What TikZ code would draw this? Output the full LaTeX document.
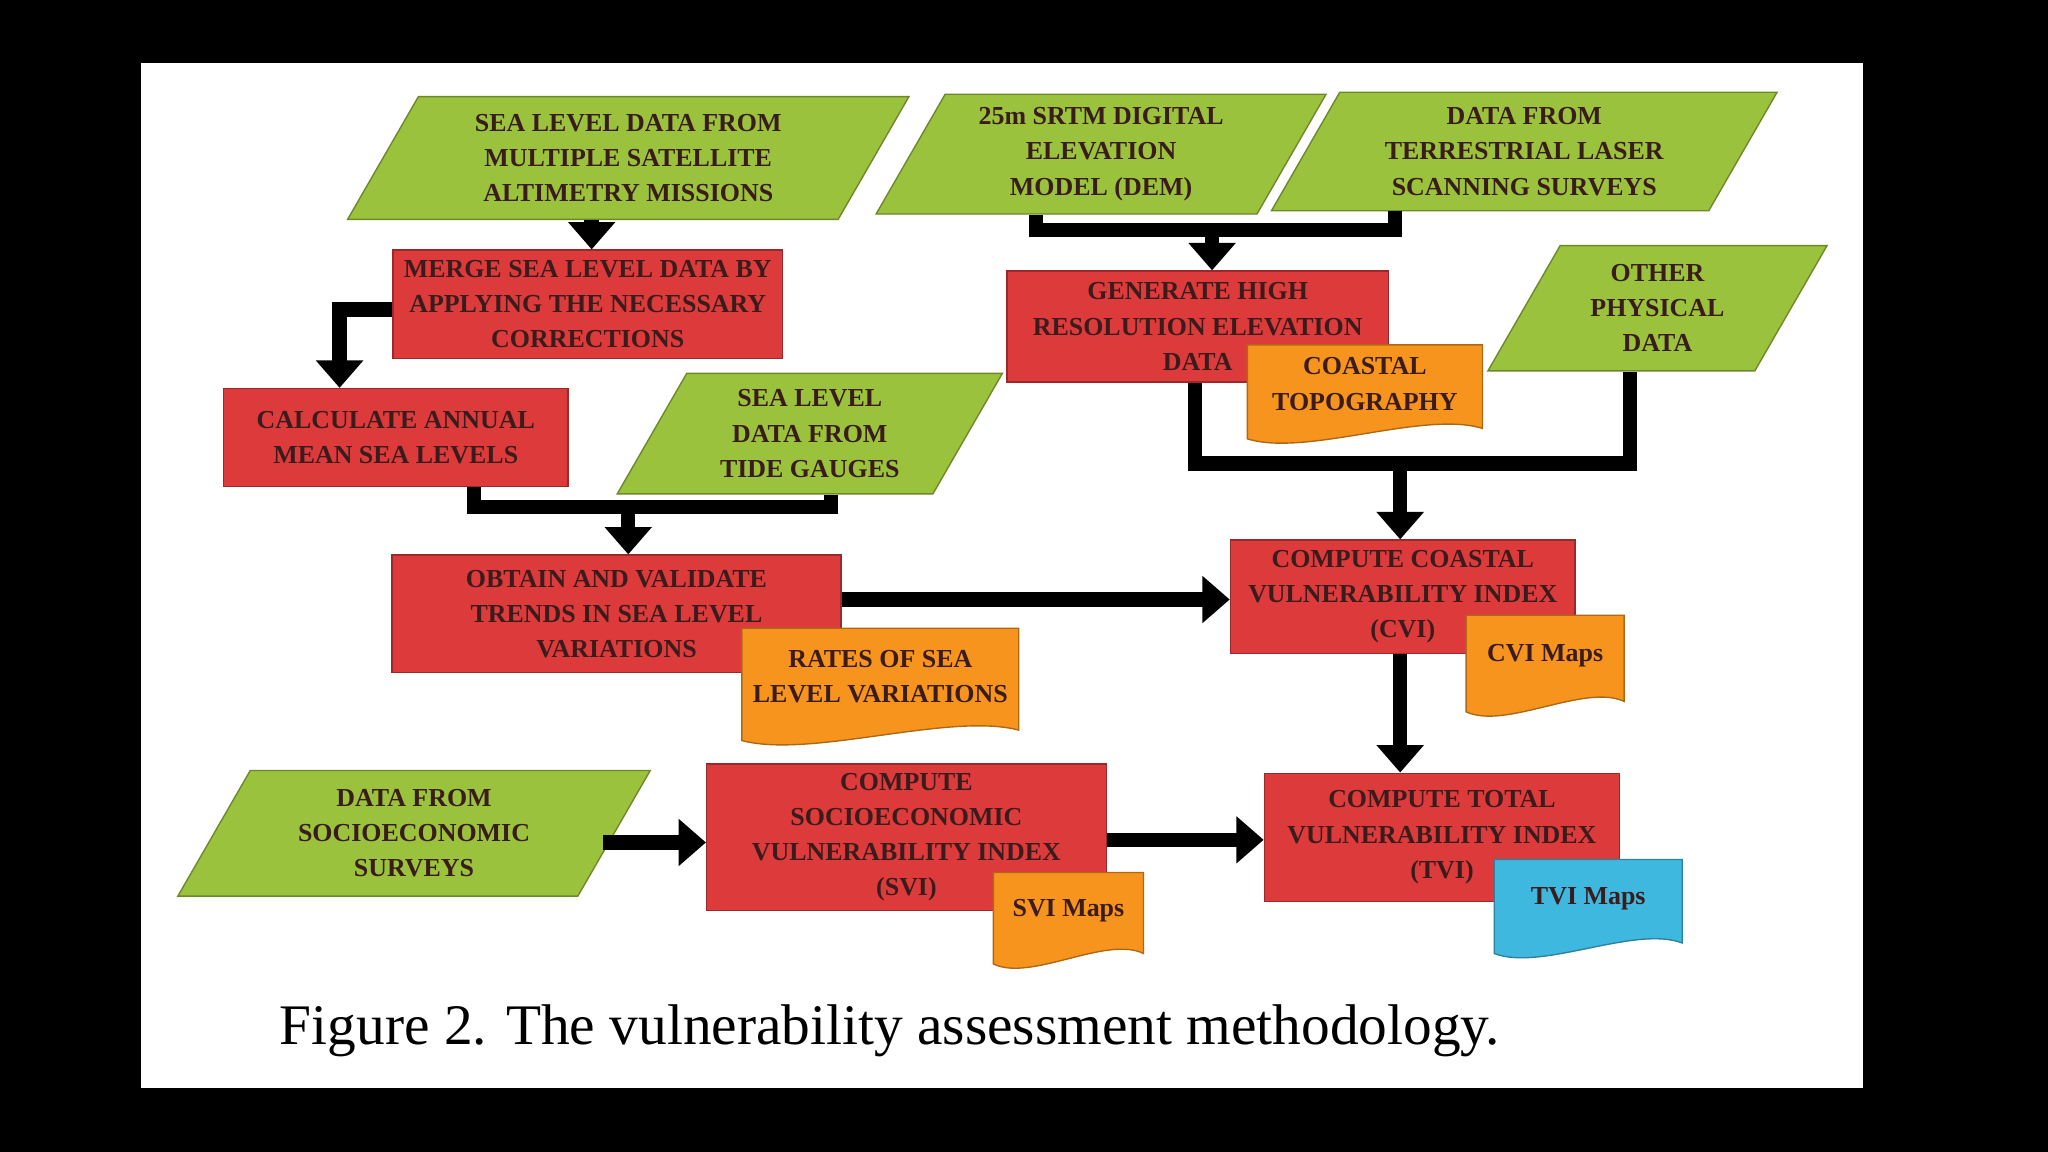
\documentclass[tikz,border=0pt]{standalone}
\usepackage{fontspec}
\setmainfont{Liberation Serif}
\usetikzlibrary{shapes.geometric,arrows.meta}
\definecolor{gfill}{HTML}{9BC23C}
\definecolor{rfill}{HTML}{DD3B3B}
\definecolor{ofill}{HTML}{F7941D}
\definecolor{bfill}{HTML}{3FB8E0}
\definecolor{tx}{HTML}{3A1C1C}
\newcommand\docbox[7]{%
 \fill[#6, draw=#6!70!black, line width=0.6pt] ({#2-#4/2},{#3-#5/2}) -- ({#2+#4/2},{#3-#5/2}) -- ({#2+#4/2},{#3+#5/2-8})
   .. controls ({#2+#4/4},{#3+#5/2-22}) and ({#2-#4/4},{#3+#5/2+14}) .. ({#2-#4/2},{#3+#5/2}) -- cycle;
 \node[txt] (#1) at (#2,{#3-6}) {#7};}
\begin{document}
\begin{tikzpicture}[x=0.02cm,y=-0.02cm,
 txt/.style={font=\fontsize{11.3}{15.3}\selectfont\bfseries, text=tx, align=center, inner sep=1pt},
 para/.style={txt, shape=trapezium, trapezium left angle=60, trapezium right angle=120, fill=gfill, draw=gfill!70!black, line width=0.6pt, inner xsep=2pt},
 rbox/.style={txt, fill=rfill, draw=rfill!70!black, line width=0.6pt},
 arr/.style={line width=0.22cm, -{Triangle[length=0.42cm,width=0.7cm]}},
 ln/.style={line width=0.22cm}]
\fill[black] (0,0) rectangle (1568,882);
\fill[white] (108,48) rectangle (1426,833);
% green inputs
\node[para, minimum width=8.6cm, minimum height=1.64cm] (g1) at (481,121) {SEA LEVEL DATA FROM\\MULTIPLE SATELLITE\\ALTIMETRY MISSIONS};
\node[para, minimum width=6.9cm, minimum height=1.66cm] (g2) at (843,118) {25m SRTM DIGITAL\\ELEVATION\\MODEL (DEM)};
\node[para, minimum width=7.75cm, minimum height=1.66cm] (g3) at (1167,116) {DATA FROM\\TERRESTRIAL LASER\\SCANNING SURVEYS};
\node[para, minimum width=5.2cm, minimum height=1.66cm] (g4) at (1269,236) {OTHER\\PHYSICAL\\DATA};
\node[para, minimum width=5.9cm, minimum height=1.68cm] (g5) at (620,332) {SEA LEVEL\\DATA FROM\\TIDE GAUGES};
\node[para, minimum width=7.25cm, minimum height=1.68cm] (g6) at (317,638) {DATA FROM\\SOCIOECONOMIC\\SURVEYS};
% red processes
\node[rbox, minimum width=5.96cm, minimum height=1.66cm] (r1) at (450,233) {MERGE SEA LEVEL DATA BY\\APPLYING THE NECESSARY\\CORRECTIONS};
\node[rbox, minimum width=5.84cm, minimum height=1.7cm] (r2) at (917,250) {GENERATE HIGH\\RESOLUTION ELEVATION\\DATA\hspace{3.2cm}};
\node[rbox, minimum width=5.28cm, minimum height=1.5cm] (r3) at (303,335) {CALCULATE ANNUAL\\MEAN SEA LEVELS};
\node[rbox, minimum width=6.88cm, minimum height=1.8cm] (r4) at (472,470) {OBTAIN AND VALIDATE\\TRENDS IN SEA LEVEL\\VARIATIONS};
\node[rbox, minimum width=5.28cm, minimum height=1.74cm] (r5) at (1074,457) {COMPUTE COASTAL\\VULNERABILITY INDEX\\(CVI)};
\node[rbox, minimum width=6.12cm, minimum height=2.24cm] (r6) at (694,641) {COMPUTE\\SOCIOECONOMIC\\VULNERABILITY INDEX\\(SVI)};
\node[rbox, minimum width=5.44cm, minimum height=1.96cm] (r7) at (1104,641) {COMPUTE TOTAL\\VULNERABILITY INDEX\\(TVI)};
% documents
\docbox{o1}{1045}{300}{180}{72}{ofill}{COASTAL\\TOPOGRAPHY}
\docbox{o2}{674}{524}{212}{86}{ofill}{RATES OF SEA\\LEVEL VARIATIONS}
\docbox{o3}{1183}{508}{121}{74}{ofill}{CVI Maps}
\docbox{o4}{818}{703}{115}{70}{ofill}{SVI Maps}
\docbox{b1}{1216}{694}{144}{72}{bfill}{TVI Maps}
% connectors
\draw[arr] (g1.south -| 453,0) -- (r1.north -| 453,0);
\draw[arr] (r1.west |- 0,237) -| (r3.north -| 260,0);
\draw[ln] (r3.south -| 363,0) |- (636,388) coordinate (c1) -- (g5.south -| 636,0);
\coordinate (c2) at (481,388);
\draw[arr] (c2) -- (r4.north -| c2);
\draw[ln] (g2.south -| 793,0) |- (1068,176) coordinate (c3) -- (g3.south -| 1068,0);
\coordinate (c4) at (928,176);
\draw[arr] (c4) -- (r2.north -| c4);
\draw[ln] (r2.south -| 915,0) |- (1248,355) coordinate (c5) -- (g4.south -| 1248,0);
\coordinate (c6) at (1072,355);
\draw[arr] (c6) -- (r5.north -| c6);
\draw[arr] (r4.east |- 0,459) -- (r5.west |- 0,459);
\draw[arr] (r5.south -| 1072,0) -- (r7.north -| 1072,0);
\draw[arr] (462,645) -- (r6.west |- 0,645);
\draw[arr] (r6.east |- 0,643) -- (r7.west |- 0,643);
% caption
\node[font=\fontsize{25}{28}\selectfont, anchor=base west, inner sep=0pt] (cap) at (214,800) {Figure 2. The vulnerability assessment methodology.};
\end{tikzpicture}
\end{document}
